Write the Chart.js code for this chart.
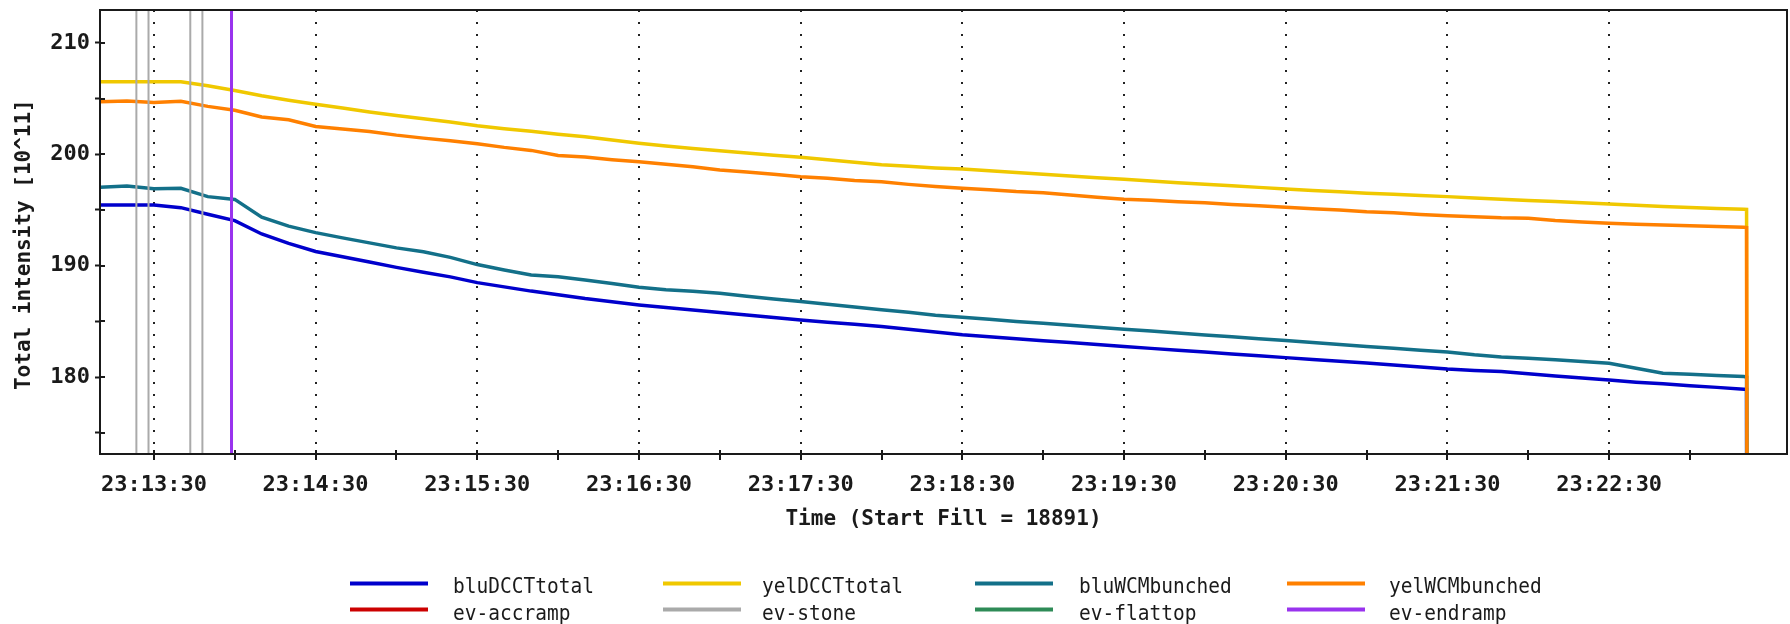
<!DOCTYPE html>
<html>
<head>
<meta charset="utf-8">
<script src="https://cdn.jsdelivr.net/npm/chart.js@4/dist/chart.umd.min.js"></script>
<style>
  html, body { margin: 0; padding: 0; background: #fff; }
  canvas { display: block; }
</style>
</head>
<body>
<canvas id="c" width="1790" height="624"></canvas>
<script>
// Fill 18891 — reference time 23:13:30, sample times in seconds after it
const T0 = 23 * 3600 + 13 * 60 + 30;
const FILL = 18891;

const timeOffsets = [
  -20, -10, 0, 10, 20, 30, 40, 50, 60, 70,
  80, 90, 100, 110, 120, 130, 140, 150, 160, 170,
  180, 190, 200, 210, 220, 230, 240, 250, 260, 270,
  280, 290, 300, 310, 320, 330, 340, 350, 360, 370,
  380, 390, 400, 410, 420, 430, 440, 450, 460, 470,
  480, 490, 500, 510, 520, 530, 540, 550, 560, 570,
  580, 590, 591, 592
];

// Total intensity [10^11]
const bluDCCTtotal = [
  195.45, 195.45, 195.45, 195.21, 194.62, 194.05, 192.85, 192.00, 191.28, 190.80,
  190.33, 189.85, 189.42, 189.00, 188.48, 188.10, 187.72, 187.40, 187.05, 186.76,
  186.48, 186.25, 186.02, 185.79, 185.57, 185.35, 185.13, 184.93, 184.74, 184.55,
  184.30, 184.05, 183.80, 183.62, 183.45, 183.27, 183.10, 182.92, 182.74, 182.58,
  182.42, 182.25, 182.08, 181.92, 181.75, 181.58, 181.42, 181.26, 181.08, 180.90,
  180.72, 180.60, 180.50, 180.30, 180.10, 179.92, 179.75, 179.55, 179.40, 179.22,
  179.08, 178.92, 178.90, 0
];
const yelDCCTtotal = [
  206.51, 206.51, 206.51, 206.51, 206.15, 205.72, 205.25, 204.85, 204.49, 204.15,
  203.80, 203.48, 203.18, 202.90, 202.56, 202.30, 202.07, 201.80, 201.58, 201.28,
  200.99, 200.75, 200.52, 200.32, 200.12, 199.92, 199.73, 199.50, 199.28, 199.06,
  198.92, 198.78, 198.68, 198.52, 198.36, 198.20, 198.05, 197.90, 197.76, 197.60,
  197.45, 197.31, 197.17, 197.03, 196.89, 196.76, 196.63, 196.50, 196.42, 196.31,
  196.20, 196.08, 195.97, 195.86, 195.76, 195.65, 195.54, 195.42, 195.32, 195.23,
  195.14, 195.07, 195.05, 0
];
const bluWCMbunched = [
  197.04, 197.15, 196.90, 196.95, 196.20, 195.95, 194.35, 193.55, 192.97, 192.50,
  192.05, 191.60, 191.25, 190.75, 190.10, 189.62, 189.17, 189.00, 188.72, 188.40,
  188.07, 187.85, 187.70, 187.53, 187.25, 187.02, 186.78, 186.55, 186.30, 186.05,
  185.82, 185.55, 185.38, 185.20, 185.00, 184.84, 184.65, 184.48, 184.30, 184.15,
  183.95, 183.79, 183.62, 183.45, 183.28, 183.10, 182.92, 182.74, 182.60, 182.42,
  182.26, 182.00, 181.80, 181.70, 181.55, 181.40, 181.25, 180.80, 180.35, 180.25,
  180.15, 180.05, 180.00, 0
];
const yelWCMbunched = [
  204.72, 204.78, 204.65, 204.75, 204.30, 203.95, 203.35, 203.10, 202.50, 202.28,
  202.05, 201.72, 201.45, 201.22, 200.95, 200.62, 200.35, 199.90, 199.75, 199.52,
  199.34, 199.10, 198.88, 198.59, 198.40, 198.20, 197.99, 197.85, 197.65, 197.54,
  197.30, 197.10, 196.95, 196.82, 196.65, 196.55, 196.35, 196.15, 195.96, 195.88,
  195.75, 195.66, 195.50, 195.38, 195.25, 195.12, 195.00, 194.85, 194.76, 194.60,
  194.49, 194.40, 194.30, 194.26, 194.05, 193.92, 193.81, 193.72, 193.66, 193.59,
  193.52, 193.45, 193.43, 0
];

// Machine events, seconds after 23:13:30
const evAccramp = [];
const evStone = [-6.5, -2.0, 13.5, 18.0];
const evFlattop = [];
const evEndramp = [28.8];

// Axis ranges
const X_MIN = -20, X_MAX = 606;
const Y_MIN = 173.1, Y_MAX = 212.95;
const Y_LABEL_STEP = 10, X_LABEL_STEP = 60;

const seriesPoints = (vals) => timeOffsets.map((t, i) => ({ x: T0 + t, y: vals[i] }));
const eventPoints = (times) => {
  const pts = [];
  times.forEach(t => {
    pts.push({ x: T0 + t, y: Y_MIN }, { x: T0 + t, y: Y_MAX }, { x: T0 + t, y: null });
  });
  return pts;
};

const hms = (s) => {
  const h = Math.floor(s / 3600), m = Math.floor((s % 3600) / 60), sec = Math.round(s % 60);
  return String(h).padStart(2, '0') + ':' + String(m).padStart(2, '0') + ':' + String(sec).padStart(2, '0');
};

const FONT = '"DejaVu Sans Mono", "Liberation Mono", monospace';
const INK = '#1a1a1a';

const lineDs = (label, data, color, width, order) => ({
  label, data, borderColor: color, backgroundColor: color, borderWidth: width,
  pointRadius: 0, tension: 0, fill: false, spanGaps: false, order
});

// Frame around the plotting area plus the inward halves of the tick marks
const framePlugin = {
  id: 'frame',
  afterDatasetsDraw(chart) {
    const { ctx, chartArea: a, scales } = chart;
    ctx.save();
    ctx.strokeStyle = INK;
    ctx.lineWidth = 2;
    ctx.strokeRect(a.left, a.top, a.right - a.left, a.bottom - a.top);
    ctx.beginPath();
    scales.x.ticks.forEach(t => {
      const px = Math.round(scales.x.getPixelForValue(t.value));
      ctx.moveTo(px, a.bottom);
      ctx.lineTo(px, a.bottom - 4);
    });
    scales.y.ticks.forEach(t => {
      const py = Math.round(scales.y.getPixelForValue(t.value));
      ctx.moveTo(a.left, py);
      ctx.lineTo(a.left + 5, py);
    });
    ctx.stroke();
    ctx.restore();
  }
};

// Four-column legend below the x axis title
const legendPlugin = {
  id: 'gridLegend',
  afterDraw(chart) {
    const ctx = chart.ctx;
    const lineX = [350, 663, 975, 1287];
    const lineLen = 78;
    const textX = [453, 762, 1079, 1389];
    const lineY = [583.5, 609.5];
    const baseY = [593, 619.5];
    ctx.save();
    chart.data.datasets.forEach((ds, i) => {
      const r = Math.floor(i / 4), c = i % 4;
      ctx.strokeStyle = ds.borderColor;
      ctx.lineWidth = 4;
      ctx.beginPath();
      ctx.moveTo(lineX[c], lineY[r]);
      ctx.lineTo(lineX[c] + lineLen, lineY[r]);
      ctx.stroke();
      ctx.save();
      ctx.translate(textX[c], baseY[r]);
      ctx.scale(1, 1.1);
      ctx.fillStyle = INK;
      ctx.font = '19.5px ' + FONT;
      ctx.textBaseline = 'alphabetic';
      ctx.fillText(ds.label, 0, 0);
      ctx.restore();
    });
    ctx.restore();
  }
};

new Chart(document.getElementById('c'), {
  type: 'line',
  data: {
    datasets: [
      lineDs('bluDCCTtotal', seriesPoints(bluDCCTtotal), '#0000cc', 3.5, 5),
      lineDs('yelDCCTtotal', seriesPoints(yelDCCTtotal), '#f0c800', 3.5, 4),
      lineDs('bluWCMbunched', seriesPoints(bluWCMbunched), '#137089', 3.5, 3),
      lineDs('yelWCMbunched', seriesPoints(yelWCMbunched), '#ff8000', 3.5, 2),
      lineDs('ev-accramp', eventPoints(evAccramp), '#cc0000', 2, 1),
      lineDs('ev-stone', eventPoints(evStone), '#aaaaaa', 2, 1),
      lineDs('ev-flattop', eventPoints(evFlattop), '#2e8b57', 2, 1),
      lineDs('ev-endramp', eventPoints(evEndramp), '#9933ee', 3, 0)
    ]
  },
  options: {
    responsive: false,
    animation: false,
    devicePixelRatio: 1,
    layout: { padding: { left: 0, right: 3, top: 10, bottom: 84 } },
    plugins: {
      legend: { display: false },
      tooltip: { enabled: false }
    },
    scales: {
      x: {
        type: 'linear',
        min: T0 + X_MIN,
        max: T0 + X_MAX,
        afterFit(scale) {
          scale.height = 86;
          scale.paddingLeft = 0;
          scale.paddingRight = 0;
        },
        afterBuildTicks(scale) {
          const last = T0 + timeOffsets[timeOffsets.length - 1];
          scale.ticks = scale.ticks.filter(t => t.value <= last);
        },
        ticks: {
          stepSize: 30,
          includeBounds: false,
          autoSkip: false,
          maxRotation: 0,
          minRotation: 0,
          padding: 12,
          color: INK,
          font: { family: FONT, size: 22, weight: 'bold' },
          callback: (v) => ((v - T0) % X_LABEL_STEP === 0 ? hms(v) : '')
        },
        grid: {
          drawOnChartArea: true,
          color: (c) => (c.tick && (c.tick.value - T0) % X_LABEL_STEP === 0 ? '#222' : 'rgba(0,0,0,0)'),
          lineWidth: 2,
          tickColor: INK,
          tickWidth: 2,
          tickLength: 6
        },
        border: { display: true, color: INK, width: 2, dash: [2, 10] },
        title: {
          display: true,
          text: 'Time (Start Fill = ' + FILL + ')',
          color: INK,
          font: { family: FONT, size: 21, weight: 'bold' },
          padding: { top: 0, bottom: 8 }
        }
      },
      y: {
        type: 'linear',
        min: Y_MIN,
        max: Y_MAX,
        afterFit(scale) {
          scale.width = 100;
          scale.paddingTop = 0;
          scale.paddingBottom = 0;
        },
        ticks: {
          stepSize: 5,
          includeBounds: false,
          autoSkip: false,
          padding: 5,
          color: INK,
          font: { family: FONT, size: 22, weight: 'bold' },
          callback: (v) => (v % Y_LABEL_STEP === 0 ? String(v) : '')
        },
        grid: {
          drawOnChartArea: false,
          tickColor: INK,
          tickWidth: 2,
          tickLength: 5
        },
        border: { display: true, color: INK, width: 2 },
        title: {
          display: true,
          text: 'Total intensity [10^11]  ',
          color: INK,
          font: { family: FONT, size: 21, weight: 'bold' },
          padding: { top: 12, bottom: 0 }
        }
      }
    }
  },
  plugins: [framePlugin, legendPlugin]
});
</script>
</body>
</html>
